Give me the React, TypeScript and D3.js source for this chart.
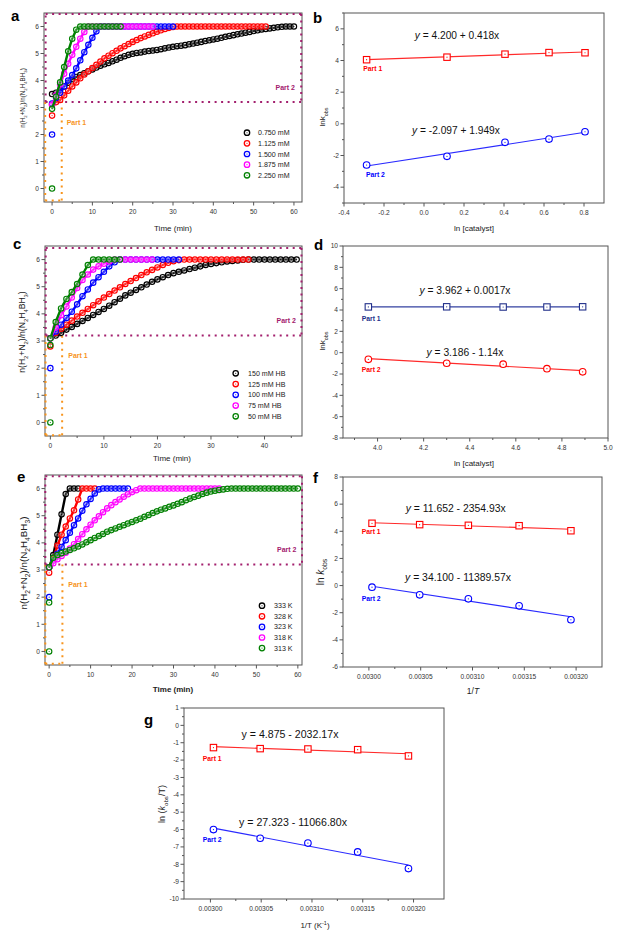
import * as d3 from 'd3'

const FONT = '"Liberation Sans", Arial, sans-serif'
const SERIES_COLORS = ['#000000', '#ff0000', '#0000ff', '#ff00ff', '#008000']
const PURPLE = '#a3206e'
const ORANGE = '#f7941d'
const TIME_STEP = 1 // min between recorded points

// ---------- a: catalyst loading ----------
const aNames = ['0.750 mM', '1.125 mM', '1.500 mM', '1.875 mM', '2.250 mM']
const aXTicks = [0, 10, 20, 30, 40, 50, 60]
const aBlack = [3.5, 3.55, 3.65, 3.78, 3.92, 4.05, 4.13, 4.2, 4.27, 4.34, 4.41, 4.48, 4.55, 4.6, 4.65, 4.71, 4.77, 4.84, 4.9, 4.95, 4.99, 5.02, 5.04, 5.07, 5.09, 5.11, 5.13, 5.16, 5.19, 5.22, 5.25, 5.27, 5.29, 5.31, 5.34, 5.37, 5.4, 5.43, 5.46, 5.49, 5.52, 5.55, 5.58, 5.62, 5.65, 5.68, 5.71, 5.74, 5.77, 5.8, 5.83, 5.86, 5.89, 5.91, 5.93, 5.95, 5.97, 5.99, 6, 6, 6]
const aRed = [3.1, 3.2, 3.28, 3.45, 3.62, 3.78, 3.93, 4.08, 4.22, 4.34, 4.46, 4.58, 4.7, 4.82, 4.92, 5.01, 5.1, 5.19, 5.27, 5.35, 5.43, 5.5, 5.57, 5.63, 5.69, 5.75, 5.81, 5.86, 5.91, 5.95, 5.98, 6, 6, 6, 6, 6, 6, 6, 6, 6, 6, 6, 6, 6, 6, 6, 6, 6, 6, 6, 6, 6, 6, 6]
const aBlue = [3.15, 3.35, 3.55, 3.78, 4.0, 4.2, 4.45, 4.75, 5.05, 5.32, 5.58, 5.82, 6, 6, 6, 6, 6, 6, 6, 6, 6, 6, 6, 6, 6, 6, 6, 6, 6, 6, 6]
const aMagenta = [3.1, 3.45, 3.85, 4.25, 4.62, 4.95, 5.25, 5.55, 5.8, 6, 6, 6, 6, 6, 6, 6, 6, 6, 6, 6, 6, 6, 6, 6, 6, 6]
const aGreen = [2.95, 3.4, 3.93, 4.5, 5.08, 5.55, 5.88, 6, 6, 6, 6, 6, 6, 6, 6, 6, 6, 6]
const aStarts = [[], [2.7], [2.0], [], [0]]
const aPart1 = [-1.7, 2.4, -0.44, 3.2]
const aPart2 = [-1.6, 61.8, 3.2, 6.46]

// ---------- c: hydrazine borane concentration ----------
const cNames = ['150 mM HB', '125 mM HB', '100 mM HB', '75 mM HB', '50 mM HB']
const cXTicks = [0, 10, 20, 30, 40]
const cBlack = [3.1, 3.2, 3.3, 3.42, 3.52, 3.63, 3.74, 3.85, 3.96, 4.07, 4.18, 4.3, 4.43, 4.56, 4.68, 4.78, 4.88, 4.98, 5.08, 5.18, 5.27, 5.35, 5.43, 5.5, 5.55, 5.6, 5.65, 5.7, 5.75, 5.8, 5.84, 5.87, 5.9, 5.93, 5.95, 5.97, 5.99, 6, 6, 6, 6, 6, 6, 6, 6, 6, 6]
const cRed = [3.1, 3.3, 3.45, 3.6, 3.75, 3.9, 4.04, 4.18, 4.32, 4.46, 4.6, 4.73, 4.86, 4.98, 5.1, 5.21, 5.32, 5.43, 5.53, 5.62, 5.71, 5.8, 5.88, 5.94, 5.98, 6, 6, 6, 6, 6, 6, 6, 6, 6, 6, 6, 6, 6]
const cBlue = [3.1, 3.35, 3.6, 3.85, 4.08, 4.35, 4.65, 4.9, 5.15, 5.35, 5.55, 5.75, 5.9, 6, 6, 6, 6, 6, 6, 6, 6, 6, 6, 6, 6]
const cMagenta = [3.1, 3.5, 3.95, 4.27, 4.6, 4.95, 5.25, 5.45, 5.63, 5.75, 5.85, 5.93, 6, 6, 6, 6, 6, 6, 6, 6]
const cGreen = [3.1, 3.7, 4.2, 4.55, 4.8, 5.1, 5.45, 5.8, 6, 6, 6, 6, 6, 6]
const cStarts = [[], [2.8], [2.0], [], [0, 2.85]]
const cPart1 = [-0.9, 2.2, -0.47, 3.2]
const cPart2 = [-0.87, 46.9, 3.2, 6.43]

// ---------- e: temperature ----------
const eNames = ['333 K', '328 K', '323 K', '318 K', '313 K']
const eXTicks = [0, 10, 20, 30, 40, 50, 60]
const eBlack = [3.1, 3.55, 4.3, 5.05, 5.8, 6, 6, 6]
const eRed = [3.1, 3.4, 3.9, 4.3, 4.6, 4.9, 5.2, 5.6, 6, 6, 6, 6]
const eBlue = [3.1, 3.35, 3.6, 3.85, 4.1, 4.37, 4.65, 4.9, 5.18, 5.42, 5.62, 5.82, 5.97, 6, 6, 6, 6, 6, 6, 6]
const eMagenta = [3.1, 3.25, 3.4, 3.52, 3.64, 3.79, 3.95, 4.14, 4.32, 4.5, 4.67, 4.83, 4.98, 5.13, 5.27, 5.39, 5.5, 5.6, 5.7, 5.79, 5.87, 5.94, 6, 6, 6, 6, 6, 6, 6, 6, 6, 6, 6, 6, 6, 6, 6, 6, 6, 6, 6, 6]
const eGreen = [3.1, 3.45, 3.55, 3.62, 3.68, 3.74, 3.8, 3.87, 3.94, 4.02, 4.1, 4.18, 4.25, 4.33, 4.41, 4.47, 4.53, 4.59, 4.65, 4.71, 4.77, 4.83, 4.89, 4.96, 5.03, 5.1, 5.16, 5.22, 5.27, 5.33, 5.38, 5.44, 5.5, 5.57, 5.63, 5.69, 5.74, 5.8, 5.85, 5.89, 5.92, 5.95, 5.97, 5.99, 6, 6, 6, 6, 6, 6, 6, 6, 6, 6, 6, 6, 6, 6, 6, 6, 6]
const eStarts = [[], [2.9], [2.0], [], [0, 1.8]]
const ePart1 = [-0.93, 3.2, -0.45, 3.2]
const ePart2 = [-0.93, 61, 3.2, 6.45]

const KIN_Y_TICKS = [0, 1, 2, 3, 4, 5, 6]

// ---------- b, d, f, g: linear fits ----------
const bX = [-0.287, 0.115, 0.405, 0.625, 0.805]
const bPart1 = [4.05, 4.21, 4.4, 4.5, 4.49]
const bPart2 = [-2.6, -2.05, -1.17, -0.96, -0.5]
const bEq = ['4.200 + 0.418x', '-2.097 + 1.949x']

const dX = [3.96, 4.3, 4.545, 4.735, 4.89]
const dPart1 = [4.29, 4.3, 4.28, 4.28, 4.3]
const dPart2 = [-0.62, -0.99, -1.08, -1.5, -1.8]
const dEq = ['3.962 + 0.0017x', '3.186 - 1.14x']

const invT = [0.003003, 0.003049, 0.003096, 0.003145, 0.003195]
const fPart1 = [4.59, 4.49, 4.44, 4.41, 4.04]
const fPart2 = [-0.12, -0.68, -0.98, -1.49, -2.52]
const fEq = ['11.652 - 2354.93x', '34.100 - 11389.57x']

const gPart1 = [-1.28, -1.34, -1.36, -1.4, -1.76]
const gPart2 = [-6.0, -6.5, -6.78, -7.29, -8.25]
const gEq = ['4.875 - 2032.17x', '27.323 - 11066.80x']

const invTTicks = [0.003, 0.00305, 0.0031, 0.00315, 0.0032]

type Seg = [string, string?]
interface Box { l: number; r: number; t: number; b: number }

function Rich({ segs, size }: { segs: Seg[]; size: number }) {
  let shift = 0
  return (
    <>
      {segs.map(([s, k], i) => {
        const target = k === 'sub' ? size * 0.32 : k === 'sup' ? -size * 0.38 : 0
        const dy = target - shift
        shift = target
        const small = k === 'sub' || k === 'sup'
        return (
          <tspan key={i} dy={dy === 0 ? undefined : dy} fontSize={small ? size * 0.68 : size} fontStyle={k === 'i' ? 'italic' : undefined}>{s}</tspan>
        )
      })}
    </>
  )
}

function Frame({ box, x, y, xTicks, xMinor, yTicks, yMinor, xFmt, yFmt }: {
  box: Box; x: d3.ScaleLinear<number, number>; y: d3.ScaleLinear<number, number>
  xTicks: number[]; xMinor: number[]; yTicks: number[]; yMinor: number[]
  xFmt: (v: number) => string; yFmt: (v: number) => string
}) {
  const c = '#555'
  return (
    <g fontFamily={FONT}>
      <rect x={box.l} y={box.t} width={box.r - box.l} height={box.b - box.t} fill="none" stroke={c} strokeWidth={1} />
      {xTicks.map(v => (
        <g key={'x' + v}>
          <line x1={x(v)} x2={x(v)} y1={box.b} y2={box.b + 3.5} stroke={c} />
          <text x={x(v)} y={box.b + 11.5} textAnchor="middle" fontSize={6.6} fill="#333">{xFmt(v)}</text>
        </g>
      ))}
      {xMinor.map(v => <line key={'xm' + v} x1={x(v)} x2={x(v)} y1={box.b} y2={box.b + 2} stroke={c} />)}
      {yTicks.map(v => (
        <g key={'y' + v}>
          <line x1={box.l - 3.5} x2={box.l} y1={y(v)} y2={y(v)} stroke={c} />
          <text x={box.l - 5} y={y(v) + 2.3} textAnchor="end" fontSize={6.6} fill="#333">{yFmt(v)}</text>
        </g>
      ))}
      {yMinor.map(v => <line key={'ym' + v} x1={box.l - 2} x2={box.l} y1={y(v)} y2={y(v)} stroke={c} />)}
    </g>
  )
}

const mids = (t: number[]) => t.slice(1).map((v, i) => (v + t[i]) / 2)

function KineticPanel(p: {
  box: Box; xDomain: [number, number]; xTicks: number[]; letter: string; letterXY: [number, number]
  series: number[][]; starts: number[][]; names: string[]
  legend: { mx: number; tx: number; y0: number; dy: number }
  part1: number[]; part2: number[]; p1XY: [number, number]; p2XY: [number, number]
  yLab: { x: number; y: number; size: number }; xLab: { x: number; y: number; weight: number }
}) {
  const { box } = p
  const x = d3.scaleLinear().domain(p.xDomain).range([box.l, box.r])
  const y = d3.scaleLinear().domain([-0.5, 6.5]).range([box.b, box.t])
  const line = d3.line<number>().x((_, i) => x(i * TIME_STEP)).y(d => y(d))
  const [a1, b1, c1, d1] = p.part1
  const [a2, b2, c2, d2] = p.part2
  const dot = { strokeWidth: 2, strokeDasharray: '2 4.5' }
  const last = p.xTicks[p.xTicks.length - 1]
  const xMinor = mids(p.xTicks).concat(last + 5 <= p.xDomain[1] ? [last + 5] : [])
  return (
    <g>
      <Frame box={box} x={x} y={y} xTicks={p.xTicks} xMinor={xMinor} yTicks={KIN_Y_TICKS} yMinor={mids(KIN_Y_TICKS)}
        xFmt={v => String(v)} yFmt={v => String(v)} />
      {/* Part regions */}
      <g stroke={ORANGE} {...dot} fill="none">
        <line x1={x(a1)} x2={x(a1)} y1={y(d1)} y2={y(c1)} />
        <line x1={x(a1)} x2={x(b1)} y1={y(c1)} y2={y(c1)} />
        <line x1={x(b1)} x2={x(b1)} y1={y(c1)} y2={y(d1)} />
      </g>
      <g stroke={PURPLE} {...dot} fill="none">
        <line x1={x(a2)} x2={x(b2)} y1={y(c2)} y2={y(c2)} />
        <line x1={x(a2)} x2={x(a2)} y1={y(c2)} y2={y(d2)} />
        <line x1={x(a2)} x2={x(b2)} y1={y(d2)} y2={y(d2)} />
        <line x1={x(b2)} x2={x(b2)} y1={y(d2)} y2={y(c2)} />
      </g>
      <text x={p.p1XY[0]} y={p.p1XY[1]} fontFamily={FONT} fontWeight="bold" fontSize={7} fill={ORANGE}>Part 1</text>
      <text x={p.p2XY[0]} y={p.p2XY[1]} fontFamily={FONT} fontWeight="bold" fontSize={7} fill={PURPLE} textAnchor="end">Part 2</text>
      {/* series: black first, green on top */}
      {p.series.map((s, k) => {
        const col = SERIES_COLORS[k]
        return (
          <g key={k}>
            <path d={line(s) ?? ''} fill="none" stroke={col} strokeWidth={2.4} strokeLinejoin="round" />
            {s.map((v, i) => (
              <g key={i}>
                <circle cx={x(i * TIME_STEP)} cy={y(v)} r={2.7} fill="#fff" fillOpacity={0.3} stroke={col} strokeWidth={1.15} />
                <circle cx={x(i * TIME_STEP)} cy={y(v)} r={0.55} fill={col} />
              </g>
            ))}
            {p.starts[k].map((v, i) => (
              <g key={'s' + i}>
                <circle cx={x(0)} cy={y(v)} r={2.7} fill="none" stroke={col} strokeWidth={1.15} />
                <circle cx={x(0)} cy={y(v)} r={0.55} fill={col} />
              </g>
            ))}
          </g>
        )
      })}
      {/* legend */}
      {p.names.map((n, k) => {
        const yy = p.legend.y0 + k * p.legend.dy
        return (
          <g key={n}>
            <circle cx={p.legend.mx} cy={yy} r={2.7} fill="none" stroke={SERIES_COLORS[k]} strokeWidth={1.3} />
            <circle cx={p.legend.mx} cy={yy} r={0.55} fill={SERIES_COLORS[k]} />
            <text x={p.legend.tx} y={yy + 2.5} fontFamily={FONT} fontSize={7.1} fill="#222">{n}</text>
          </g>
        )
      })}
      <text x={p.xLab.x} y={p.xLab.y} textAnchor="middle" fontFamily={FONT} fontSize={8} fontWeight={p.xLab.weight} fill="#222">Time (min)</text>
      <text transform={`translate(${p.yLab.x},${p.yLab.y}) rotate(-90)`} textAnchor="middle" fontFamily={FONT} fill="#222">
        <Rich size={p.yLab.size} segs={[['n(H'], ['2', 'sub'], ['+N'], ['2', 'sub'], [')/n(N'], ['2', 'sub'], ['H'], ['4', 'sub'], ['BH'], ['3', 'sub'], [')']]} />
      </text>
      <text x={p.letterXY[0]} y={p.letterXY[1]} fontFamily={FONT} fontWeight="bold" fontSize={15}>{p.letter}</text>
    </g>
  )
}

interface FitPart {
  ys: number[]; color: string; lineColor: string; shape: 'square' | 'circle'
  labelXY: [number, number]; eq: string; eqXY: [number, number]
}

function lsFit(xs: number[], ys: number[]) {
  const mx = d3.mean(xs)!, my = d3.mean(ys)!
  const sxy = d3.sum(xs, (v, i) => (v - mx) * (ys[i] - my))
  const sxx = d3.sum(xs, v => (v - mx) ** 2)
  const k = sxy / sxx
  return (v: number) => my + k * (v - mx)
}

function FitPanel(p: {
  box: Box; xDomain: [number, number]; yDomain: [number, number]
  xTicks: number[]; xMinor: number[]; yTicks: number[]; yMinor: number[]; xFmt: (v: number) => string
  letter: string; letterXY: [number, number]; xs: number[]; parts: FitPart[]
  eqSize: number; italicY: boolean
  yLab: { x: number; y: number; size: number; segs: Seg[] }; xLab: { x: number; y: number; size: number; segs: Seg[] }
}) {
  const { box } = p
  const x = d3.scaleLinear().domain(p.xDomain).range([box.l, box.r])
  const y = d3.scaleLinear().domain(p.yDomain).range([box.b, box.t])
  const x0 = p.xs[0], x1 = p.xs[p.xs.length - 1]
  return (
    <g>
      <Frame box={box} x={x} y={y} xTicks={p.xTicks} xMinor={p.xMinor} yTicks={p.yTicks} yMinor={p.yMinor}
        xFmt={p.xFmt} yFmt={v => String(v)} />
      {p.parts.map((pt, k) => {
        const f = lsFit(p.xs, pt.ys)
        return (
          <g key={k}>
            <line x1={x(x0)} x2={x(x1)} y1={y(f(x0))} y2={y(f(x1))} stroke={pt.lineColor} strokeWidth={1.1} />
            {p.xs.map((xv, i) => (
              <g key={i}>
                {pt.shape === 'square'
                  ? <rect x={x(xv) - 3.2} y={y(pt.ys[i]) - 3.2} width={6.4} height={6.4} fill="#fff" stroke={pt.color} strokeWidth={1.1} />
                  : <circle cx={x(xv)} cy={y(pt.ys[i])} r={3.3} fill="#fff" stroke={pt.color} strokeWidth={1.1} />}
                <circle cx={x(xv)} cy={y(pt.ys[i])} r={0.6} fill={pt.color} />
              </g>
            ))}
            <text x={pt.labelXY[0]} y={pt.labelXY[1]} fontFamily={FONT} fontWeight="bold" fontSize={6.8} fill={pt.color}>{`Part ${k + 1}`}</text>
            <text x={pt.eqXY[0]} y={pt.eqXY[1]} textAnchor="middle" fontFamily={FONT} fontSize={p.eqSize} fill="#111">
              <tspan fontStyle={p.italicY ? 'italic' : undefined}>y</tspan>
              <tspan>{` = ${pt.eq}`}</tspan>
            </text>
          </g>
        )
      })}
      <text x={p.xLab.x} y={p.xLab.y} textAnchor="middle" fontFamily={FONT} fill="#222"><Rich size={p.xLab.size} segs={p.xLab.segs} /></text>
      <text transform={`translate(${p.yLab.x},${p.yLab.y}) rotate(-90)`} textAnchor="middle" fontFamily={FONT} fill="#222">
        <Rich size={p.yLab.size} segs={p.yLab.segs} />
      </text>
      <text x={p.letterXY[0]} y={p.letterXY[1]} fontFamily={FONT} fontWeight="bold" fontSize={15}>{p.letter}</text>
    </g>
  )
}

const RED = '#ff0000'
const BLUE = '#0000ff'
const NAVY = '#22308a'
const lnk: Seg[] = [['lnk'], ['obs', 'sub']]
const catLab: Seg[] = [['ln [catalyst]']]

export default function App() {
  const invTFmt = (v: number) => v.toFixed(5)
  const invTMinor = mids(invTTicks)
  return (
    <div style={{ position: 'absolute', left: 0, top: 0 }}>
      <svg width={620} height={945} style={{ display: 'block', background: '#fff' }}>
        <KineticPanel box={{ l: 44, r: 302, t: 13, b: 202 }} xDomain={[-2, 62]} xTicks={aXTicks} letter="a" letterXY={[11, 21]}
          series={[aBlack, aRed, aBlue, aMagenta, aGreen]} starts={aStarts} names={aNames}
          legend={{ mx: 247, tx: 258, y0: 132.7, dy: 10.65 }} part1={aPart1} part2={aPart2}
          p1XY={[66.7, 125]} p2XY={[295, 90]} yLab={{ x: 25, y: 98, size: 6.3 }} xLab={{ x: 173, y: 231, weight: 400 }} />
        <KineticPanel box={{ l: 45, r: 302, t: 246, b: 436 }} xDomain={[-1, 47]} xTicks={cXTicks} letter="c" letterXY={[13, 249]}
          series={[cBlack, cRed, cBlue, cMagenta, cGreen]} starts={cStarts} names={cNames}
          legend={{ mx: 235.7, tx: 248, y0: 373.3, dy: 10.75 }} part1={cPart1} part2={cPart2}
          p1XY={[68.3, 358.3]} p2XY={[296, 322.7]} yLab={{ x: 25, y: 332, size: 8.6 }} xLab={{ x: 172, y: 461, weight: 400 }} />
        <KineticPanel box={{ l: 45, r: 302, t: 475, b: 665 }} xDomain={[-1, 61]} xTicks={eXTicks} letter="e" letterXY={[17, 482]}
          series={[eBlack, eRed, eBlue, eMagenta, eGreen]} starts={eStarts} names={eNames}
          legend={{ mx: 262, tx: 274, y0: 605.7, dy: 10.6 }} part1={ePart1} part2={ePart2}
          p1XY={[68.3, 587.3]} p2XY={[296.5, 551.7]} yLab={{ x: 27, y: 563, size: 9.8 }} xLab={{ x: 173, y: 692, weight: 700 }} />

        <FitPanel box={{ l: 344, r: 604, t: 13, b: 203 }} xDomain={[-0.4, 0.9]} yDomain={[-5, 7]}
          xTicks={[-0.4, -0.2, 0, 0.2, 0.4, 0.6, 0.8]} xMinor={[-0.3, -0.1, 0.1, 0.3, 0.5, 0.7]}
          yTicks={[-4, -2, 0, 2, 4, 6]} yMinor={[-5, -3, -1, 1, 3, 5, 7]} xFmt={v => v.toFixed(1)}
          letter="b" letterXY={[313, 22.5]} xs={bX} eqSize={10.2} italicY
          parts={[
            { ys: bPart1, color: RED, lineColor: '#ff2a2a', shape: 'square', labelXY: [363.3, 71], eq: bEq[0], eqXY: [457, 38.5] },
            { ys: bPart2, color: BLUE, lineColor: '#2a2aff', shape: 'circle', labelXY: [366, 176.5], eq: bEq[1], eqXY: [456, 134] },
          ]}
          yLab={{ x: 325, y: 117, size: 8, segs: lnk }} xLab={{ x: 474, y: 231, size: 8, segs: catLab }} />
        <FitPanel box={{ l: 343, r: 608, t: 246, b: 438 }} xDomain={[3.85, 5.0]} yDomain={[-8, 10]}
          xTicks={[4.0, 4.2, 4.4, 4.6, 4.8, 5.0]} xMinor={[3.9, 4.1, 4.3, 4.5, 4.7, 4.9]}
          yTicks={[-8, -6, -4, -2, 0, 2, 4, 6, 8, 10]} yMinor={[-7, -5, -3, -1, 1, 3, 5, 7, 9]} xFmt={v => v.toFixed(1)}
          letter="d" letterXY={[314, 250]} xs={dX} eqSize={10.3} italicY
          parts={[
            { ys: dPart1, color: NAVY, lineColor: '#3341a0', shape: 'square', labelXY: [361.7, 320.7], eq: dEq[0], eqXY: [465, 294] },
            { ys: dPart2, color: RED, lineColor: '#ff2a2a', shape: 'circle', labelXY: [361.7, 372.3], eq: dEq[1], eqXY: [465, 356] },
          ]}
          yLab={{ x: 325, y: 341, size: 8, segs: lnk }} xLab={{ x: 474, y: 466, size: 8, segs: catLab }} />
        <FitPanel box={{ l: 343, r: 602, t: 477, b: 667 }} xDomain={[0.002975, 0.003225]} yDomain={[-6, 8]}
          xTicks={invTTicks} xMinor={invTMinor} yTicks={[-6, -4, -2, 0, 2, 4, 6, 8]} yMinor={[-5, -3, -1, 1, 3, 5, 7]} xFmt={invTFmt}
          letter="f" letterXY={[313, 483]} xs={invT} eqSize={10.4} italicY
          parts={[
            { ys: fPart1, color: RED, lineColor: '#ff2a2a', shape: 'square', labelXY: [361.7, 534.3], eq: fEq[0], eqXY: [455.7, 512] },
            { ys: fPart2, color: BLUE, lineColor: '#2a2aff', shape: 'circle', labelXY: [361.7, 601], eq: fEq[1], eqXY: [458, 581] },
          ]}
          yLab={{ x: 324, y: 572, size: 10, segs: [['ln '], ['k', 'i'], ['obs', 'sub']] }}
          xLab={{ x: 473, y: 694, size: 8.5, segs: [['1/'], ['T', 'i']] }} />
        <FitPanel box={{ l: 184, r: 444, t: 708, b: 899 }} xDomain={[0.002974, 0.00323]} yDomain={[-10, 1]}
          xTicks={invTTicks} xMinor={invTMinor} yTicks={[-10, -9, -8, -7, -6, -5, -4, -3, -2, -1, 0, 1]}
          yMinor={[-9.5, -8.5, -7.5, -6.5, -5.5, -4.5, -3.5, -2.5, -1.5, -0.5, 0.5]} xFmt={invTFmt}
          letter="g" letterXY={[144, 725]} xs={invT} eqSize={10.6} italicY={false}
          parts={[
            { ys: gPart1, color: RED, lineColor: '#ff2a2a', shape: 'square', labelXY: [202.7, 760.7], eq: gEq[0], eqXY: [290, 738] },
            { ys: gPart2, color: BLUE, lineColor: '#2a2aff', shape: 'circle', labelXY: [202.7, 841.7], eq: gEq[1], eqXY: [293, 826] },
          ]}
          yLab={{ x: 165, y: 804, size: 9, segs: [['ln ('], ['k', 'i'], ['obs', 'sub'], ['/T)']] }}
          xLab={{ x: 315, y: 928, size: 8, segs: [['1/T (K'], ['-1', 'sup'], [')']] }} />
      </svg>
    </div>
  )
}
